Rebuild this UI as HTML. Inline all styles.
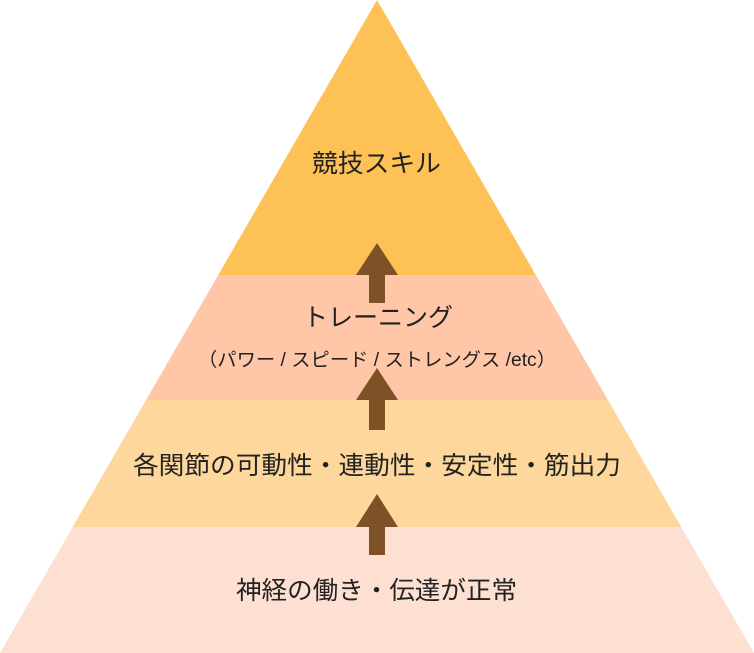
<!DOCTYPE html>
<html><head><meta charset="utf-8"><style>html,body{margin:0;padding:0;background:#fff}svg{display:block}text{font-family:"Liberation Sans","Noto Sans CJK JP",sans-serif;fill:#222}</style></head><body>
<svg width="754" height="653" viewBox="0 0 754 653" xmlns="http://www.w3.org/2000/svg">
<defs><clipPath id="c"><polygon points="377,0 754,653 0,653"/></clipPath></defs>
<g clip-path="url(#c)">
<rect x="0" y="0" width="754" height="275" fill="#FDC155"/>
<rect x="0" y="275" width="754" height="125" fill="#FFC6A8"/>
<rect x="0" y="400" width="754" height="127" fill="#FDD79B"/>
<rect x="0" y="527" width="754" height="126" fill="#FDE0D2"/>
</g>
<g fill="#7F5126">
<polygon points="377,243 398,275 385,275 385,303 369,303 369,275 356,275"/>
<polygon points="377,368 398,400 385,400 385,430 369,430 369,400 356,400"/>
<polygon points="377,494 398,527 385,527 385,555 369,555 369,527 356,527"/>
</g>
<text x="312" y="172" font-size="25" textLength="129" lengthAdjust="spacingAndGlyphs">競技スキル</text>
<text x="303" y="326" font-size="25" textLength="150" lengthAdjust="spacingAndGlyphs">トレーニング</text>
<text x="198" y="366" font-size="19" textLength="358" lengthAdjust="spacingAndGlyphs">（パワー / スピード / ストレングス /etc）</text>
<text x="133" y="474" font-size="25" textLength="488" lengthAdjust="spacingAndGlyphs">各関節の可動性・連動性・安定性・筋出力</text>
<text x="236" y="599" font-size="25" textLength="281" lengthAdjust="spacingAndGlyphs">神経の働き・伝達が正常</text>
</svg>
</body></html>
